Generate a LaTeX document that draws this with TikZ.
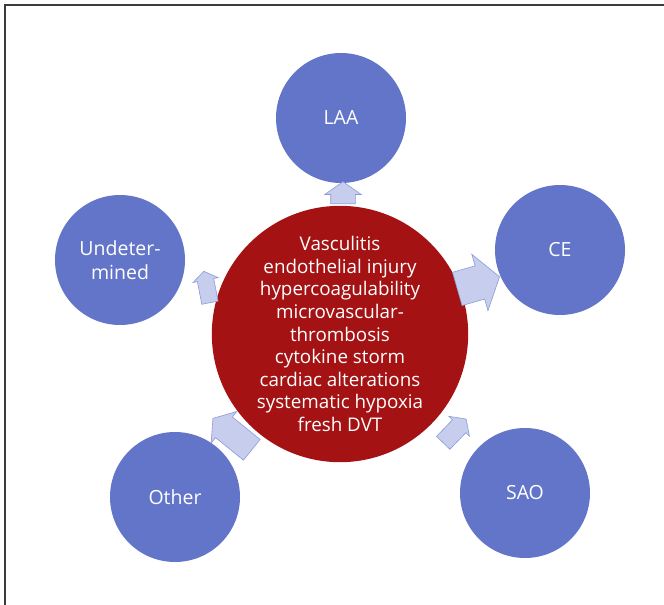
\documentclass[tikz,border=0pt]{standalone}
\usepackage{fontspec}
\setmainfont{Open Sans}
\usetikzlibrary{shapes.arrows}
\definecolor{outerblue}{RGB}{99,117,200}
\definecolor{corered}{RGB}{164,18,20}
\definecolor{arrowfill}{RGB}{199,205,236}
\definecolor{arrowline}{RGB}{140,154,217}
\definecolor{framegray}{RGB}{60,60,60}
\begin{document}
\begin{tikzpicture}[x=1pt,y=-1pt,
  outer/.style={circle,fill=outerblue,draw=none,minimum size=130pt,inner sep=0pt,
    text=white,align=center,font=\fontsize{19.5}{24}\selectfont},
  core/.style={circle,fill=corered,draw=none,minimum size=254pt,inner sep=0pt,
    text=white,align=center,font=\fontsize{18.8}{22.6}\selectfont},
  blockarrow/.style={single arrow,fill=arrowfill,draw=arrowline,line width=0.6pt,
    inner xsep=0pt,anchor=tail,single arrow tip angle=110},
]
\useasboundingbox (0,0) rectangle (664,605);
\draw[framegray,line width=1.2pt] (5,605) -- (5,5) -- (664,5);

\node[core] (core) at (340,334) {Vasculitis\\endothelial injury\\hypercoagulability\\microvascular-\\thrombosis\\cytokine storm\\cardiac alterations\\systematic hypoxia\\fresh DVT};

\node[outer] (laa) at (341,118) {LAA};
\node[outer] (ce) at (560,250) {CE};
\node[outer] (und) at (120,260) {Undeter-\\mined};
\node[outer] (oth) at (175,497) {Other};
\node[outer] (sao) at (525,493) {SAO};

\node[blockarrow,rotate=90,minimum height=22pt,minimum width=36pt,inner ysep=12pt,single arrow head extend=6pt] (a1) at (343,204) {};
\node[blockarrow,rotate=16,minimum height=44pt,minimum width=58pt,inner ysep=17pt,single arrow head extend=12pt] (a2) at (457,289) {};
\node[blockarrow,rotate=101,minimum height=32pt,minimum width=25pt,inner ysep=8pt,single arrow head extend=4.5pt] (a3) at (210,303) {};
\node[blockarrow,rotate=141,minimum height=50pt,minimum width=40pt,inner ysep=13pt,single arrow head extend=7pt] (a4) at (252,450) {};
\node[blockarrow,rotate=46,minimum height=33pt,minimum width=28pt,inner ysep=9pt,single arrow head extend=5pt] (a5) at (443,443) {};
\end{tikzpicture}
\end{document}
